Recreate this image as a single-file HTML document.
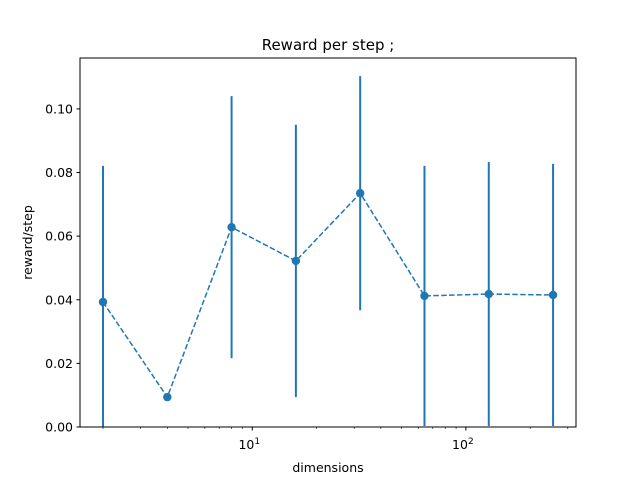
<!DOCTYPE html>
<html><head><meta charset="utf-8"><style>body{margin:0;background:#fff}svg{display:block;font-family:"DejaVu Sans","Liberation Sans",sans-serif}</style></head>
<body>
<svg id="c" width="640" height="480" xmlns="http://www.w3.org/2000/svg"></svg>
<script>
const dims=[2,4,8,16,32,64,128,256];
const rewards=[0.0393,0.0094,0.0628,0.0522,0.0735,0.0412,0.0418,0.0415];
const errors=[0.0428,0.0,0.0412,0.0428,0.0368,0.0409,0.0415,0.0412];
const yTicks=[0,0.02,0.04,0.06,0.08,0.10];
const yTickLabels=["0.00","0.02","0.04","0.06","0.08","0.10"];
const xMajor=[10,100];
const xMinor=[2,3,4,5,6,7,8,9,20,30,40,50,60,70,80,90,200,300];
const L=80,R=576,T=58,B=427;
const xmin=Math.log10(1.561),xmax=Math.log10(327.8),ymin=0,ymax=0.116;
const X=v=>L+(Math.log10(v)-xmin)/(xmax-xmin)*(R-L);
const Y=v=>B-(v-ymin)/(ymax-ymin)*(B-T);
const svg=document.getElementById('c');const NS='http://www.w3.org/2000/svg';
function mk(t,a,p){const e=document.createElementNS(NS,t);for(const k in a)e.setAttribute(k,a[k]);(p||svg).appendChild(e);return e;}
const clip=mk('clipPath',{id:'cp'});mk('rect',{x:L,y:T,width:R-L,height:B-T},clip);
const g=mk('g',{'clip-path':'url(#cp)'});
dims.forEach((d,i)=>{const l=mk('line',{x1:X(d),x2:X(d),y1:Y(rewards[i]-errors[i]),y2:Y(rewards[i]+errors[i]),stroke:'#1f77b4','stroke-width':2},g);

});
const pl=mk('polyline',{points:dims.map((d,i)=>X(d)+','+Y(rewards[i])).join(' '),fill:'none',stroke:'#1f77b4','stroke-width':1.5,'stroke-dasharray':'5.5,2.4'},g);


dims.forEach((d,i)=>{const c=mk('circle',{cx:X(d),cy:Y(rewards[i]),r:4.2,fill:'#1f77b4'},g);

});
const fr=mk('rect',{x:L,y:T,width:R-L,height:B-T,fill:'none',stroke:'#000','stroke-width':1});

yTicks.forEach((v,i)=>{mk('line',{x1:L-3.5,x2:L,y1:Y(v),y2:Y(v),stroke:'#000'});
const t=mk('text',{x:L-7,y:Y(v)+4.5,'text-anchor':'end','font-size':12.5});t.textContent=yTickLabels[i];
});
xMajor.forEach(v=>{mk('line',{x1:X(v),x2:X(v),y1:B,y2:B+3.5,stroke:'#000'});
const t=mk('text',{x:X(v)-3,y:B+22,'text-anchor':'middle','font-size':12.5});t.textContent='10';
const s=mk('tspan',{dy:-5,'font-size':9});s.textContent=String(Math.round(Math.log10(v)));t.appendChild(s);
});
xMinor.forEach(v=>mk('line',{x1:X(v),x2:X(v),y1:B,y2:B+2,stroke:'#000','stroke-width':0.6}));
let t=mk('text',{x:(L+R)/2,y:472,'text-anchor':'middle','font-size':12.5});t.textContent='dimensions';

t=mk('text',{x:0,y:0,'text-anchor':'middle','font-size':12.5,transform:'translate(32,'+((T+B)/2)+') rotate(-90)'});t.textContent='reward/step';

t=mk('text',{x:(L+R)/2,y:50,'text-anchor':'middle','font-size':15});t.textContent='Reward per step ;';

</script>
</body></html>
